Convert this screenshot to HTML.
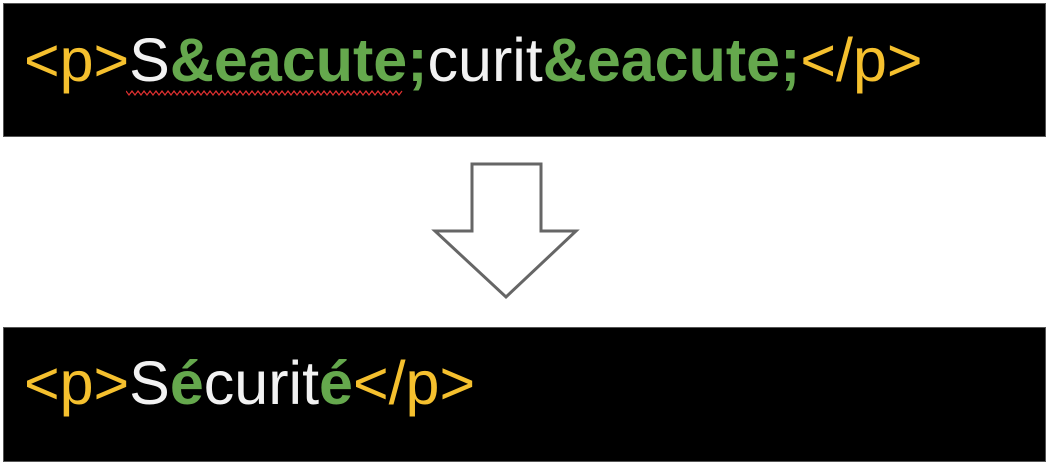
<!DOCTYPE html>
<html><head><meta charset="utf-8"><style>
html,body{margin:0;padding:0;background:#fff;width:1049px;height:465px;overflow:hidden;position:relative}
.box{position:absolute;left:3px;width:1041px;background:#000;border:1px solid #555}
.t{position:absolute;left:24px;font-family:"Liberation Sans",sans-serif;font-size:61px;line-height:1;white-space:nowrap;color:#f2f2f2}
.y{color:#f5c02e}.g{color:#65a84d;font-weight:bold}
.sq{position:absolute;left:126px;top:90px;width:278px;height:6px}
</style></head><body>
<div class="box" style="top:3px;height:132px"></div>
<div class="t" style="top:30px"><span class="y">&lt;p&gt;</span>S<span class="g">&amp;eacute;</span>curit<span class="g">&amp;eacute;</span><span class="y">&lt;/p&gt;</span></div>
<svg class="sq" viewBox="0 0 278 6"><polyline fill="none" stroke="#e03030" stroke-width="1.2" points="0,1 3,5 6,1 9,5 12,1 15,5 18,1 21,5 24,1 27,5 30,1 33,5 36,1 39,5 42,1 45,5 48,1 51,5 54,1 57,5 60,1 63,5 66,1 69,5 72,1 75,5 78,1 81,5 84,1 87,5 90,1 93,5 96,1 99,5 102,1 105,5 108,1 111,5 114,1 117,5 120,1 123,5 126,1 129,5 132,1 135,5 138,1 141,5 144,1 147,5 150,1 153,5 156,1 159,5 162,1 165,5 168,1 171,5 174,1 177,5 180,1 183,5 186,1 189,5 192,1 195,5 198,1 201,5 204,1 207,5 210,1 213,5 216,1 219,5 222,1 225,5 228,1 231,5 234,1 237,5 240,1 243,5 246,1 249,5 252,1 255,5 258,1 261,5 264,1 267,5 270,1 273,5 276,1"/></svg>
<svg style="position:absolute;left:0;top:0" width="1049" height="465"><polygon points="472,164 541,164 541,231 576,231 506,297 435,231 472,231" fill="#fff" stroke="#666" stroke-width="3"/></svg>
<div class="box" style="top:327px;height:133px"></div>
<div class="t" style="top:353px"><span class="y">&lt;p&gt;</span>S<span class="g">é</span>curit<span class="g">é</span><span class="y">&lt;/p&gt;</span></div>
</body></html>
